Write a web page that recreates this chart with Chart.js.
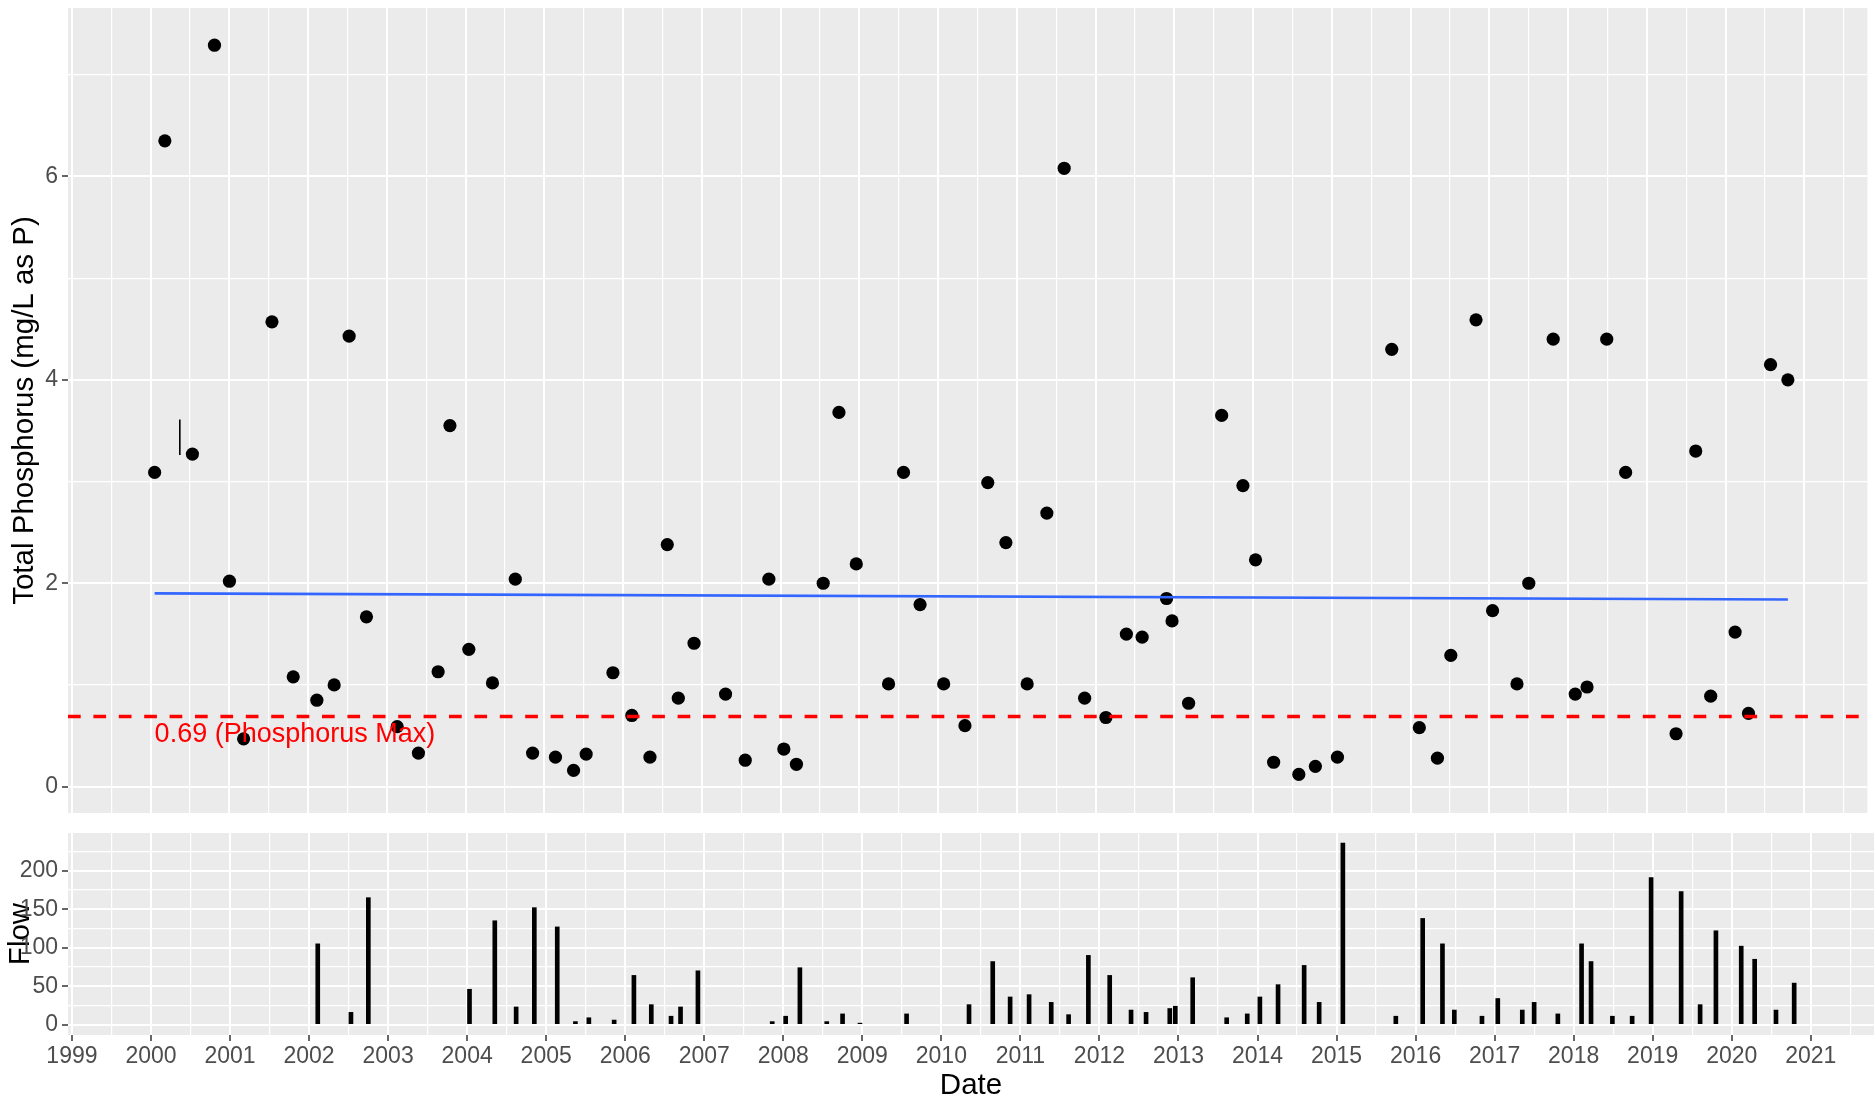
<!DOCTYPE html>
<html><head><meta charset="utf-8">
<script src="https://cdn.jsdelivr.net/npm/chart.js@4.4.1/dist/chart.umd.min.js"></script>
<style>
html,body{margin:0;padding:0;background:#fff;width:1874px;height:1101px;overflow:hidden}
#c1{position:absolute;left:0;top:0}
#c2{position:absolute;left:0;top:820px}
</style></head><body>
<canvas id="c1" width="1874" height="820"></canvas>
<canvas id="c2" width="1874" height="281"></canvas>
<script>
// ---- data (decimal years) ----
const tpDates = [2000.05,2000.18,2000.53,2000.81,2001.00,2001.18,2001.54,2001.81,2002.11,2002.33,2002.52,2002.74,2003.13,2003.40,2003.65,2003.80,2004.04,2004.34,2004.63,2004.85,2005.14,2005.37,2005.53,2005.87,2006.11,2006.34,2006.56,2006.70,2006.90,2007.30,2007.55,2007.85,2008.04,2008.20,2008.54,2008.74,2008.96,2009.37,2009.56,2009.77,2010.07,2010.34,2010.63,2010.86,2011.13,2011.38,2011.60,2011.86,2012.13,2012.39,2012.59,2012.90,2012.97,2013.18,2013.60,2013.87,2014.03,2014.26,2014.58,2014.79,2015.07,2015.76,2016.11,2016.34,2016.51,2016.83,2017.04,2017.35,2017.50,2017.81,2018.09,2018.24,2018.49,2018.73,2019.37,2019.62,2019.81,2020.12,2020.29,2020.57,2020.79];
const tpValues = [3.09,6.35,3.27,7.29,2.02,0.47,4.57,1.08,0.85,1.00,4.43,1.67,0.59,0.33,1.13,3.55,1.35,1.02,2.04,0.33,0.29,0.16,0.32,1.12,0.70,0.29,2.38,0.87,1.41,0.91,0.26,2.04,0.37,0.22,2.00,3.68,2.19,1.01,3.09,1.79,1.01,0.60,2.99,2.40,1.01,2.69,6.08,0.87,0.68,1.50,1.47,1.85,1.63,0.82,3.65,2.96,2.23,0.24,0.12,0.20,0.29,4.30,0.58,0.28,1.29,4.59,1.73,1.01,2.00,4.40,0.91,0.98,4.40,3.09,0.52,3.30,0.89,1.52,0.72,4.15,4.00];
const flowDates = [2002.11,2002.53,2002.75,2004.03,2004.35,2004.62,2004.85,2005.14,2005.37,2005.54,2005.86,2006.11,2006.33,2006.58,2006.70,2006.92,2007.86,2008.03,2008.21,2008.55,2008.75,2008.97,2009.56,2010.35,2010.65,2010.87,2011.11,2011.39,2011.61,2011.86,2012.13,2012.40,2012.59,2012.89,2012.96,2013.18,2013.61,2013.87,2014.03,2014.26,2014.59,2014.78,2015.08,2015.75,2016.09,2016.34,2016.49,2016.84,2017.04,2017.35,2017.50,2017.80,2018.10,2018.22,2018.49,2018.74,2018.98,2019.36,2019.60,2019.80,2020.12,2020.29,2020.56,2020.79];
const flowValues = [105,16,165,46,135,23,152,127,4,9,6,64,26,11,23,70,4,11,74,4,14,2,14,26,82,36,39,29,13,90,64,19,16,21,24,61,9,14,36,52,77,29,236,11,138,105,19,11,34,19,29,14,105,82,11,11,191,173,26,122,102,85,19,54];
const trendDates = [2000.05, 2020.79];
const trendValues = [1.90, 1.84];
const segDates = [2000.37, 2000.37];
const segValues = [3.26, 3.61];
const tpMax = 0.69;
const tpMaxLabel = '0.69 (Phosphorus Max)';
const xTickLabels = ['1999','2000','2001','2002','2003','2004','2005','2006','2007','2008','2009','2010','2011','2012','2013','2014','2015','2016','2017','2018','2019','2020','2021'];
const tpTickLabels = ['0','2','4','6'];
const tpGridValues = [0,1,2,3,4,5,6,7];
const flowTickLabels = ['0','50','100','150','200'];
const flowGridValues = [0,25,50,75,100,125,150,175,200,225];

// ---- layout constants ----
const X_MIN = 1998.95, X_MAX = 2021.80;
const TP_MIN = -0.259, TP_MAX = 7.656;
const FL_MIN = -13.4, FL_MAX = 249.0;
const FONT = "'Liberation Sans', Arial, sans-serif";
const TICK_COL = '#4D4D4D';
const xGridValues = [];
xTickLabels.forEach(l => { const y = Number(l); xGridValues.push(y, y + 0.5); });

Chart.defaults.font.family = FONT;
Chart.defaults.animation = false;

const panelBg = {
  id: 'panelBg',
  beforeDraw(chart) {
    const {ctx, chartArea: a} = chart;
    ctx.save(); ctx.fillStyle = '#EBEBEB';
    ctx.fillRect(a.left, a.top, a.right - a.left, a.bottom - a.top);
    ctx.restore();
  }
};
const maxLabel = {
  id: 'maxLabel',
  afterDatasetsDraw(chart) {
    const {ctx, scales: {x, y}} = chart;
    ctx.save();
    ctx.font = '27px ' + FONT; ctx.fillStyle = '#FF0000';
    ctx.textAlign = 'left'; ctx.textBaseline = 'middle';
    ctx.fillText(tpMaxLabel, x.getPixelForValue(tpDates[0]), y.getPixelForValue(tpMax) + 18);
    ctx.restore();
  }
};
const zeroPad = s => { s.paddingTop = 0; s.paddingBottom = 0; s.paddingLeft = 0; s.paddingRight = 0; };
const isMajorX = ctx => ctx.tick && Number.isInteger(ctx.tick.value);
const majorOf = list => ctx => ctx.tick && list.includes(String(ctx.tick.value));

function xScale(showLabels) {
  return {
    type: 'linear', min: X_MIN, max: X_MAX, offset: false, bounds: 'data',
    afterBuildTicks: s => { s.ticks = xGridValues.map(v => ({value: v})); },
    afterFit: s => { s.height = showLabels ? 66 : 0; zeroPad(s); },
    ticks: {
      display: showLabels, autoSkip: false, maxRotation: 0, minRotation: 0,
      color: TICK_COL, font: {size: 23}, padding: 2,
      callback: v => Number.isInteger(v) ? String(v) : ''
    },
    grid: {
      color: '#FFFFFF', offset: false,
      lineWidth: ctx => isMajorX(ctx) ? 2 : 1.2,
      drawTicks: showLabels, tickLength: 6, tickWidth: 1.5,
      tickColor: ctx => isMajorX(ctx) ? '#333333' : 'rgba(0,0,0,0)'
    },
    border: {display: false},
    title: showLabels ? {display: true, text: 'Date', color: '#000', font: {size: 29.5, lineHeight: 1}, padding: {top: 0, bottom: 0}} : {display: false}
  };
}
function yScale(min, max, gridVals, labels, title, titlePad) {
  const maj = majorOf(labels);
  return {
    type: 'linear', min: min, max: max, bounds: 'data',
    afterBuildTicks: s => { s.ticks = gridVals.map(v => ({value: v})); },
    afterFit: s => { s.width = 68; zeroPad(s); },
    ticks: {
      autoSkip: false, color: TICK_COL, font: {size: 23}, padding: 4,
      callback: v => labels.includes(String(v)) ? String(v) : ''
    },
    grid: {
      color: '#FFFFFF',
      lineWidth: ctx => maj(ctx) ? 2 : 1.2,
      drawTicks: true, tickLength: 6, tickWidth: 1.5,
      tickColor: ctx => maj(ctx) ? '#333333' : 'rgba(0,0,0,0)'
    },
    border: {display: false},
    title: {display: true, text: title, color: '#000', font: {size: 29.5}, padding: {top: titlePad, bottom: 0}}
  };
}

new Chart(document.getElementById('c1'), {
  type: 'scatter',
  data: {
    datasets: [
      { label: 'Total Phosphorus', order: 3,
        data: tpDates.map((d, i) => ({x: d, y: tpValues[i]})),
        pointRadius: 6.6, pointBackgroundColor: '#000', pointBorderWidth: 0, showLine: false },
      { label: 'Trend', order: 2, type: 'line',
        data: trendDates.map((d, i) => ({x: d, y: trendValues[i]})),
        borderColor: '#3366FF', borderWidth: 2.7, pointRadius: 0, showLine: true, fill: false },
      { label: 'Segment', order: 2, type: 'line',
        data: segDates.map((d, i) => ({x: d, y: segValues[i]})),
        borderColor: '#000', borderWidth: 1.6, pointRadius: 0, showLine: true, fill: false },
      { label: 'Phosphorus Max', order: 1, type: 'line',
        data: [{x: X_MIN, y: tpMax}, {x: X_MAX, y: tpMax}],
        borderColor: '#FF0000', borderWidth: 3.5, borderDash: [12.7, 12.7], pointRadius: 0, showLine: true, fill: false }
    ]
  },
  options: {
    responsive: false, animation: false,
    layout: {padding: {top: 8, bottom: 7, left: 0, right: 0}},
    plugins: {legend: {display: false}, tooltip: {enabled: false}},
    scales: {
      x: xScale(false),
      y: yScale(TP_MIN, TP_MAX, tpGridValues, tpTickLabels, 'Total Phosphorus (mg/L as P)', 7)
    }
  },
  plugins: [panelBg, maxLabel]
});

new Chart(document.getElementById('c2'), {
  type: 'bar',
  data: {
    datasets: [
      { label: 'Flow', data: flowDates.map((d, i) => ({x: d, y: flowValues[i]})),
        backgroundColor: '#000', borderWidth: 0, barThickness: 4 }
    ]
  },
  options: {
    responsive: false, animation: false,
    layout: {padding: {top: 13, bottom: 0, left: 0, right: 0}},
    plugins: {legend: {display: false}, tooltip: {enabled: false}},
    scales: {
      x: xScale(true),
      y: yScale(FL_MIN, FL_MAX, flowGridValues, flowTickLabels, 'Flow', 3)
    }
  },
  plugins: [panelBg]
});
</script>
</body></html>
